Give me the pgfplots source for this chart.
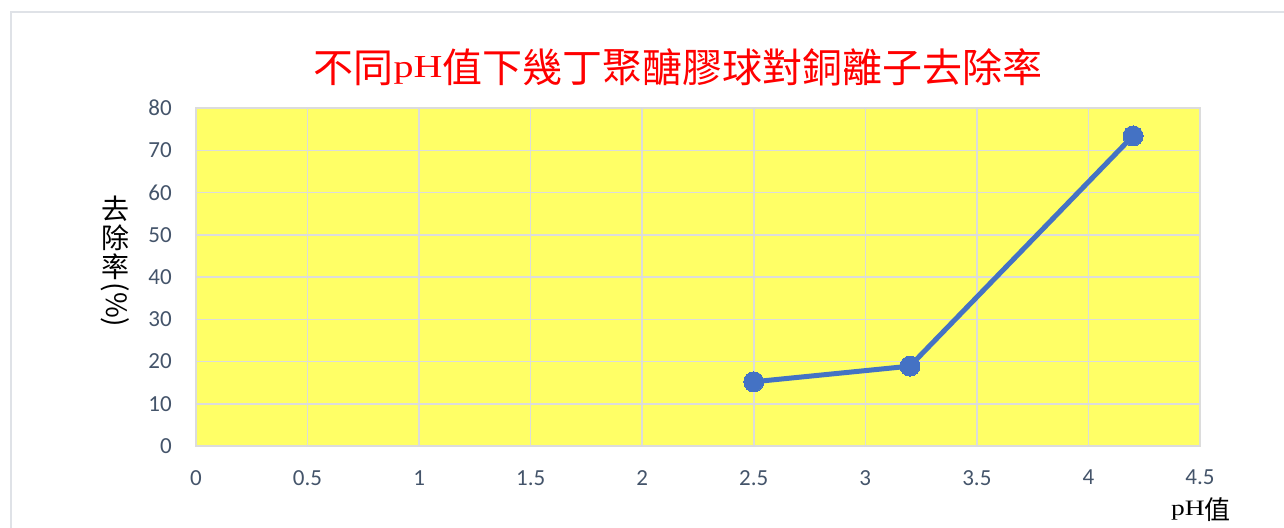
\documentclass[border=0pt]{standalone}
\usepackage{pgfplots}
\pgfplotsset{compat=1.18}
\usepackage{graphicx}
\usepackage{fontspec}
\setmainfont{Liberation Serif}
\newfontfamily\cjk{Noto Sans CJK TC}
\newfontfamily\calibri{Carlito}

\definecolor{plotyellow}{HTML}{FFFF66}
\definecolor{gridgray}{HTML}{DCDCDC}
\definecolor{tickblue}{HTML}{44546A}
\definecolor{lineblue}{HTML}{4472C4}
\definecolor{framegray}{HTML}{DFE2E7}

\begin{document}
\begin{tikzpicture}
\useasboundingbox (0pt,0pt) rectangle (1284pt,-527pt);
\begin{scope}
  \clip (0pt,0pt) rectangle (1284pt,-527pt);
  \draw[framegray, line width=1.5pt] (11pt,-12pt) rectangle (1330pt,-580pt);
\end{scope}

% chart title
\node[anchor=base, inner sep=0pt, text=red] at (678pt,-82pt)
  {\fontsize{40}{40}\selectfont{\cjk 不同}\raisebox{5pt}{\scalebox{1.25}[1]{\fontsize{32}{32}\selectfont pH}}{\cjk 值下幾丁聚醣膠球對銅離子去除率}};

% vertical y-axis title
\node[anchor=north, inner sep=0pt] at (115pt,-196pt)
  {\cjk\fontsize{28}{28}\selectfont\shortstack{去\\除\\率\\\rotatebox{-90}{(\%)}}};

% x-axis title
\node[anchor=base, inner sep=0pt] at (1201pt,-519pt)
  {\fontsize{26}{26}\selectfont\raisebox{4pt}{\scalebox{1.25}[1]{\fontsize{22}{22}\selectfont pH}}{\cjk 值}};

\begin{axis}[
  at={(196pt,-446pt)}, anchor=south west,
  scale only axis, width=1004pt, height=338pt,
  xmin=0, xmax=4.5, ymin=0, ymax=80,
  xtick={0,0.5,1,1.5,2,2.5,3,3.5,4,4.5},
  ytick={0,10,20,30,40,50,60,70,80},
  axis background/.style={fill=plotyellow},
  grid=major,
  major grid style={draw=gridgray, line width=1.5pt},
  axis line style={draw=gridgray, line width=1.5pt},
  tick style={draw=none},
  major tick length=0pt,
  /pgf/number format/assume math mode=true,
  ticklabel style={font=\calibri\fontsize{23}{26}\selectfont, text=tickblue, inner sep=0pt},
  xticklabel style={anchor=north, yshift=-24pt},
  yticklabel style={anchor=east, xshift=-24pt},
  clip=false,
]
\addplot[draw=lineblue, line width=5pt, mark=*, mark size=10pt,
  mark options={fill=lineblue, draw=lineblue, line width=0pt}]
  coordinates {(2.5,15.2) (3.2,18.9) (4.2,73.4)};
\end{axis}
\end{tikzpicture}
\end{document}
